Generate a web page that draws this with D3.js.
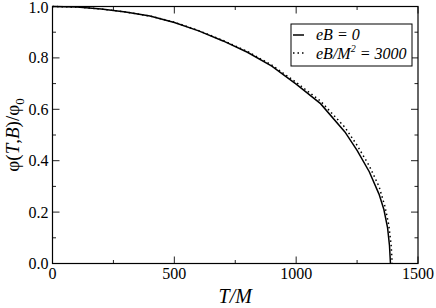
<!DOCTYPE html>
<html>
<head>
<script src="https://d3js.org/d3.v7.min.js"></script>
<style>
  body { margin: 0; background: #fff; }
  svg text { font-family: 'Liberation Serif'; }
</style>
</head>
<body>
<div id="chart"></div>
<script>
// solid curve, eB = 0
const tZero = [0, 100, 200, 300, 400, 500, 600, 700, 800, 900, 1000, 1100, 1200, 1250, 1300, 1340, 1360, 1375, 1383, 1387];
const phiZero = [1.0, 0.998, 0.99, 0.979, 0.963, 0.938, 0.905, 0.866, 0.822, 0.768, 0.698, 0.622, 0.512, 0.44, 0.357, 0.27, 0.21, 0.14, 0.07, 0.0];
// dotted curve, eB/M^2 = 3000
const tField = [0, 100, 200, 300, 400, 500, 600, 700, 800, 900, 1000, 1100, 1200, 1250, 1300, 1340, 1365, 1380, 1390, 1394];
const phiField = [1.0, 0.998, 0.99, 0.979, 0.963, 0.939, 0.906, 0.868, 0.825, 0.772, 0.705, 0.632, 0.53, 0.46, 0.38, 0.30, 0.22, 0.15, 0.07, 0.0];

const xMajor = [0, 500, 1000, 1500];
const xMinor = [250, 750, 1250];
const yMajor = [0, 0.2, 0.4, 0.6, 0.8, 1.0];
const yMinor = [0.1, 0.3, 0.5, 0.7, 0.9];

const W = 436, H = 308;
const margin = { left: 52.5, right: 18, top: 6.5, bottom: 44.5 };
const serif = "Liberation Serif";

const svg = d3.select("#chart").append("svg").attr("width", W).attr("height", H);

const x = d3.scaleLinear().domain([0, 1500]).range([margin.left, W - margin.right]);
const y = d3.scaleLinear().domain([0, 1]).range([H - margin.bottom, margin.top]);

const x0 = x.range()[0], x1 = x.range()[1];
const y0 = y.range()[0], y1 = y.range()[1];

// tick marks on all four sides, pointing inward
const ticks = svg.append("g").attr("stroke", "#222").attr("stroke-width", 1);
function xTicks(vals, len) {
  vals.forEach(v => {
    ticks.append("line").attr("x1", x(v)).attr("x2", x(v)).attr("y1", y0).attr("y2", y0 - len);
    ticks.append("line").attr("x1", x(v)).attr("x2", x(v)).attr("y1", y1).attr("y2", y1 + len);
  });
}
function yTicks(vals, len) {
  vals.forEach(v => {
    ticks.append("line").attr("y1", y(v)).attr("y2", y(v)).attr("x1", x0).attr("x2", x0 + len);
    ticks.append("line").attr("y1", y(v)).attr("y2", y(v)).attr("x1", x1).attr("x2", x1 - len);
  });
}
xTicks(xMajor, 7); xTicks(xMinor, 3.5);
yTicks(yMajor, 7); yTicks(yMinor, 3.5);

// frame
svg.append("rect")
  .attr("x", x0).attr("y", y1).attr("width", x1 - x0).attr("height", y0 - y1)
  .attr("fill", "none").attr("stroke", "#000").attr("stroke-width", 1.2);

// tick labels
svg.selectAll(".xl").data(xMajor).enter().append("text")
  .attr("x", d => x(d)).attr("y", y0 + 15)
  .attr("text-anchor", "middle").attr("font-family", serif).attr("font-size", 16)
  .text(d => d);
svg.selectAll(".yl").data(yMajor).enter().append("text")
  .attr("x", x0 - 4).attr("y", d => y(d) + (d === 1 ? 6.5 : 5.5))
  .attr("text-anchor", "end").attr("font-family", serif).attr("font-size", 16)
  .text(d => d.toFixed(1));

// curves
const line = d3.line().x(d => x(d[0])).y(d => y(d[1]));
svg.append("path").datum(tZero.map((t, i) => [t, phiZero[i]]))
  .attr("d", line).attr("fill", "none").attr("stroke", "#000").attr("stroke-width", 1.5);
svg.append("path").datum(tField.map((t, i) => [t, phiField[i]]))
  .attr("d", line).attr("fill", "none").attr("stroke", "#000").attr("stroke-width", 1.5)
  .attr("stroke-dasharray", "1.5,3");

// legend
const lg = svg.append("g");
lg.append("rect").attr("x", 291).attr("y", 24).attr("width", 121).attr("height", 42)
  .attr("fill", "#fff").attr("stroke", "#000").attr("stroke-width", 1);
lg.append("line").attr("x1", 293).attr("x2", 304).attr("y1", 35).attr("y2", 35)
  .attr("stroke", "#000").attr("stroke-width", 1.5);
lg.append("line").attr("x1", 293).attr("x2", 304).attr("y1", 53).attr("y2", 53)
  .attr("stroke", "#000").attr("stroke-width", 1.5).attr("stroke-dasharray", "1.5,3");
lg.append("text").attr("x", 316).attr("y", 40).attr("font-family", serif).attr("font-size", 16)
  .attr("font-style", "italic").text("eB = 0");
const t2 = lg.append("text").attr("x", 316).attr("y", 59).attr("font-family", serif).attr("font-size", 16)
  .attr("font-style", "italic");
t2.append("tspan").text("eB/M");
t2.append("tspan").attr("dy", -7).attr("font-size", 10).text("2");
t2.append("tspan").attr("dy", 7).text(" = 3000");

// axis titles
svg.append("text").attr("x", (x0 + x1) / 2).attr("y", 303)
  .attr("text-anchor", "middle").attr("font-family", serif).attr("font-size", 20).attr("font-style", "italic")
  .text("T/M");

const yt = svg.append("text")
  .attr("transform", `translate(19,${(y0 + y1) / 2}) rotate(-90)`)
  .attr("text-anchor", "middle").attr("font-family", serif).attr("font-size", 19);
yt.append("tspan").text("φ(");
yt.append("tspan").attr("font-style", "italic").text("T");
yt.append("tspan").text(",");
yt.append("tspan").attr("font-style", "italic").text("B");
yt.append("tspan").text(")/φ");
yt.append("tspan").attr("dy", 5).attr("font-size", 13).text("0");
</script>
</body>
</html>
